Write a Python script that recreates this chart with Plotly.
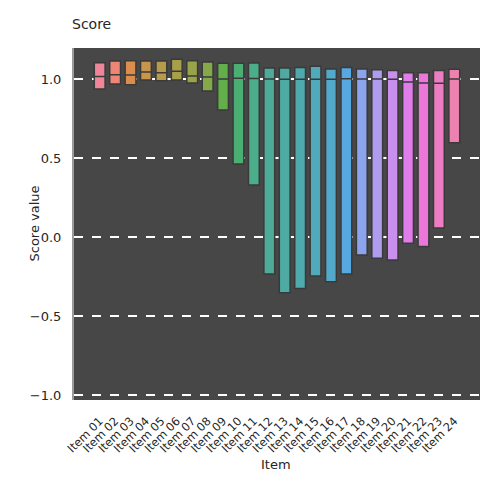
import math
import colorsys
import plotly.graph_objects as go

# ---------------- data ----------------
categories = [f"Item {i:02d}" for i in range(1, 25)]
q3_vals = [1.103, 1.114, 1.116, 1.114, 1.114, 1.125, 1.116, 1.108, 1.099, 1.099, 1.101, 1.070,
           1.070, 1.072, 1.080, 1.063, 1.072, 1.063, 1.059, 1.053, 1.040, 1.040, 1.053, 1.061]
median_vals = [1.015, 1.027, 1.025, 1.044, 1.040, 1.049, 1.019, 1.013, 1.000, 1.004, 1.003, 1.000,
               0.998, 0.998, 0.998, 0.998, 1.002, 1.000, 1.000, 0.998, 0.981, 0.975, 0.973, 1.000]
q1_vals = [0.937, 0.968, 0.964, 0.994, 0.989, 0.994, 0.975, 0.924, 0.804, 0.462, 0.329, -0.234,
           -0.353, -0.327, -0.247, -0.283, -0.234, -0.114, -0.135, -0.146, -0.040, -0.061, 0.057, 0.597]
y_ticks = [1.0, 0.5, 0.0, -0.5, -1.0]
y_tick_labels = ["1.0", "0.5", "0.0", "−0.5", "−1.0"]
chart_title = "Score"
x_title = "Item"
y_title = "Score value"

# ---------------- husl palette (seaborn style) ----------------
M = [[3.2406, -1.5372, -0.4986], [-0.9689, 1.8758, 0.0415], [0.0557, -0.2040, 1.0570]]
REF_U, REF_V = 0.19784, 0.46834
KAPPA, EPS = 24389 / 27, 216 / 24389


def max_chroma(L, H):
    hrad = math.radians(H)
    sinH, cosH = math.sin(hrad), math.cos(hrad)
    sub1 = (L + 16) ** 3 / 1560896.0
    sub2 = sub1 if sub1 > EPS else L / KAPPA
    result = float("inf")
    for m1, m2, m3 in M:
        top = (0.99915 * m1 + 1.05122 * m2 + 1.14460 * m3) * sub2
        rbottom = 0.86330 * m3 - 0.17266 * m2
        lbottom = 0.12949 * m3 - 0.38848 * m1
        bottom = (rbottom * sinH + lbottom * cosH) * sub2
        for t in (0.0, 1.0):
            C = L * (top - 1.05122 * t) / (bottom + 0.17266 * sinH * t)
            if 0 < C < result:
                result = C
    return result


def husl_to_rgb(h, s, l):
    C = max_chroma(l, h) / 100.0 * s
    U, V = C * math.cos(math.radians(h)), C * math.sin(math.radians(h))
    varY = ((l + 16) / 116.0) ** 3 if l > 8 else l / KAPPA
    varU = U / (13 * l) + REF_U
    varV = V / (13 * l) + REF_V
    Y = varY
    X = -(9 * Y * varU) / ((varU - 4) * varV - varU * varV)
    Z = (9 * Y - 15 * varV * Y - varV * X) / (3 * varV)
    out = []
    for row in M:
        c = row[0] * X + row[1] * Y + row[2] * Z
        c = 12.92 * c if c <= 0.0031308 else 1.055 * c ** (1 / 2.4) - 0.055
        out.append(min(max(c, 0), 1))
    return out


def palette(n, h=0.01, s=0.9, l=0.65, sat=0.85, lighten=0.08):
    cols = []
    for i in range(n):
        hue = ((i / n + h) % 1) * 359
        r, g, b = husl_to_rgb(hue, s * 99, l * 99)
        hh, ll, ss = colorsys.rgb_to_hls(r, g, b)
        r, g, b = colorsys.hls_to_rgb(hh, ll, ss * sat)
        r, g, b = [c + (1 - c) * lighten for c in (r, g, b)]
        cols.append(f"rgb({int(r*255)},{int(g*255)},{int(b*255)})")
    return cols


colors = palette(len(categories))

fig = go.Figure()
for i, cat in enumerate(categories):
    fig.add_trace(go.Box(
        x=[cat], q1=[q1_vals[i]], median=[median_vals[i]], q3=[q3_vals[i]],
        lowerfence=[q1_vals[i]], upperfence=[q3_vals[i]],
        fillcolor=colors[i], line=dict(color="#3a3a3a", width=1.5),
        width=0.7,
        showlegend=False, hoverinfo="skip", boxpoints=False,
    ))

fig.update_layout(
    width=500, height=500,
    margin=dict(l=74, r=20, t=48, b=100),
    paper_bgcolor="white", plot_bgcolor="#474747",
    title=dict(text=chart_title, x=0.144, xanchor="left", xref="container",
               y=0.952, yanchor="middle", font=dict(size=14, color="#262626")),
    font=dict(family="DejaVu Sans", color="#262626"),
)
fig.update_xaxes(tickangle=-45, tickfont=dict(size=11.5), showgrid=False,
                 ticklabelstandoff=11)
fig.update_yaxes(range=[-1.032, 1.196], tickvals=y_ticks, ticktext=y_tick_labels,
                 tickfont=dict(size=13), showgrid=True, gridcolor="white",
                 griddash="dash", gridwidth=2, zeroline=False,
                 showline=True, linecolor="#9a9a9a", linewidth=2,
                 ticklabelstandoff=8)
fig.add_annotation(text=y_title, textangle=-90, x=(24 - 74) / 406, xref="paper",
                   y=0.5, yref="paper", showarrow=False, font=dict(size=13))
fig.add_annotation(text=x_title, x=(276 - 74) / 406, xref="paper", y=(400 - 474) / 352,
                   yref="paper", showarrow=False, font=dict(size=13))
fig.write_html("out.html")
